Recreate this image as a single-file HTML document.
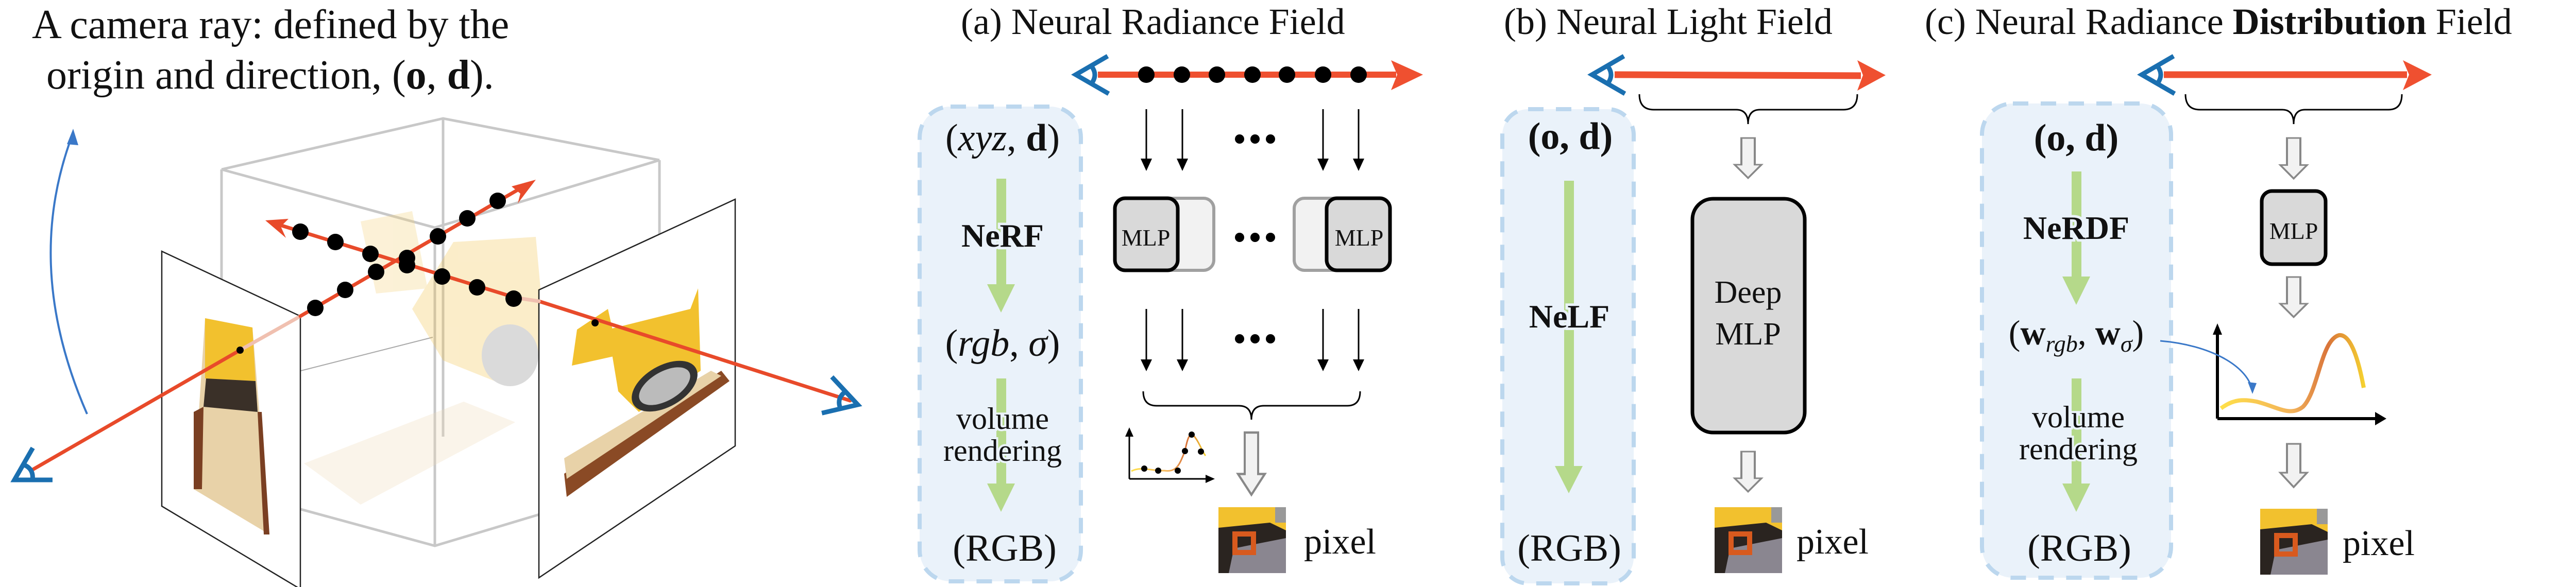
<!DOCTYPE html>
<html><head><meta charset="utf-8"><style>
html,body{margin:0;padding:0;background:#fff;}
svg{display:block;font-family:"Liberation Serif","Times New Roman","DejaVu Serif",serif;}
svg text{font-family:"Liberation Serif","Times New Roman","DejaVu Serif",serif;fill:#111;}
</style></head><body>
<svg width="5010" height="1140" viewBox="0 0 5010 1140" xmlns="http://www.w3.org/2000/svg" font-family="Liberation Serif, serif">
<defs>
<linearGradient id="cg" x1="0" y1="0" x2="1" y2="0">
<stop offset="0" stop-color="#ffe04a"/><stop offset="0.5" stop-color="#f2b25a"/><stop offset="0.75" stop-color="#d9743a"/><stop offset="1" stop-color="#f5d030"/>
</linearGradient>
<g id="eye"><path d="M62,-36 L0,0 L64,37" fill="none" stroke="#1a6fb0" stroke-width="9"/><path d="M30,-17 Q44,0 30,18" fill="none" stroke="#1a6fb0" stroke-width="9"/></g>
<g id="pix">
<rect x="0" y="0" width="131" height="128" fill="#f2c12e"/>
<polygon points="0,40 100,30 131,45 131,128 0,128" fill="#2a2420"/>
<polygon points="30,80 131,60 131,128 20,128" fill="#8a8690"/>
<rect x="110" y="0" width="21" height="30" fill="#999"/>
<rect x="32" y="52" width="36" height="36" fill="none" stroke="#d85a1e" stroke-width="10"/>
</g>
<g id="hol"><path d="M-13,0 H13 V70 H26 L0,105 L-26,70 H-13 Z" fill="#f2f2f2" stroke="#888" stroke-width="4"/></g>
</defs>

<!-- Left title -->
<text x="62" y="74" font-size="80" font-family="Liberation Serif, serif">A camera ray: defined by the</text>
<text x="90" y="172" font-size="80" font-family="Liberation Serif, serif">origin and direction, (<tspan font-weight="bold">o</tspan>, <tspan font-weight="bold">d</tspan>).</text>

<!-- blue arc -->
<path d="M169,804 C80,600 80,420 142,258" fill="none" stroke="#3a78c8" stroke-width="4"/>
<polygon points="142,250 130,280 152,282" fill="#3a78c8"/>

<!-- box edges -->
<g stroke="#c8c8c8" stroke-width="5" fill="none">
<polyline points="430,329 860,230 1280,311"/>
<line x1="860" y1="230" x2="860" y2="848"/>
<line x1="430" y1="329" x2="430" y2="947"/>
<line x1="1280" y1="311" x2="1280" y2="929"/>
<polyline points="430,947 844,1060 1280,929"/>
<polyline points="430,329 844,442 1280,311"/>
<line x1="844" y1="442" x2="844" y2="1060"/>
</g>
<line x1="584" y1="720" x2="840" y2="655" stroke="#aaa" stroke-width="2"/>
<!-- ghost bulldozer -->
<g opacity="0.3">
<polygon points="700,430 800,410 830,560 730,570" fill="#f4d27a"/>
<polygon points="880,470 1040,460 1060,680 960,740 860,700 800,600" fill="#f2c450"/>
<ellipse cx="990" cy="690" rx="55" ry="60" fill="#888"/>
<polygon points="590,900 900,780 1000,820 700,980" fill="#f0dcb8"/>
</g>

<!-- left plane -->
<polygon points="314,488 583,614 583,1144 314,983" fill="#fff" stroke="#222" stroke-width="2.5"/>
<polygon points="398,618 490,636 523,1038 376,950" fill="#e8d2a8"/>
<polygon points="398,618 490,636 496,740 398,735" fill="#f2c12e"/>
<polygon points="400,735 496,740 500,800 395,790" fill="#3a3028"/>
<polygon points="376,800 395,790 392,950 376,950" fill="#7a3f22"/>
<polygon points="500,800 508,800 523,1038 512,1038" fill="#7a3f22"/>
<!-- right plane -->
<polygon points="1046,563 1427,387 1427,866 1046,1122" fill="#fff" stroke="#222" stroke-width="2.5"/>
<polygon points="1095,920 1400,720 1416,740 1100,965" fill="#8a4a25"/>
<polygon points="1095,890 1380,720 1400,730 1100,930" fill="#e8d2a8"/>
<polygon points="1120,640 1180,600 1200,690 1110,710" fill="#f2c12e"/>
<polygon points="1180,640 1340,600 1355,560 1360,720 1240,800 1200,760" fill="#f2c12e"/>
<ellipse cx="1290" cy="750" rx="70" ry="40" transform="rotate(-30 1290 750)" fill="#333"/>
<ellipse cx="1290" cy="750" rx="55" ry="28" transform="rotate(-30 1290 750)" fill="#bbb"/>

<!-- rays -->
<g stroke-linecap="round">
<line x1="60" y1="914" x2="466" y2="680" stroke="#e84a2a" stroke-width="7"/>
<line x1="466" y1="680" x2="583" y2="614" stroke="#f0c0b0" stroke-width="7"/>
<line x1="583" y1="614" x2="1020" y2="360" stroke="#e84a2a" stroke-width="7"/>
<line x1="1650" y1="778" x2="1046" y2="585" stroke="#e84a2a" stroke-width="7"/>
<line x1="1046" y1="585" x2="1000" y2="578" stroke="#f0c0b0" stroke-width="7"/>
<line x1="1000" y1="578" x2="540" y2="436" stroke="#e84a2a" stroke-width="7"/>
</g>
<polygon points="1040,349 993,362 1010,376 1005,395" fill="#e84a2a"/>
<polygon points="515,428 560,425 545,440 555,462" fill="#e84a2a"/>
<circle cx="466" cy="680" r="7" fill="#000"/>
<circle cx="1155" cy="627" r="7" fill="#000"/>
<g fill="#000">
<circle cx="612" cy="598" r="16"/><circle cx="670" cy="563" r="16"/><circle cx="730" cy="528" r="16"/><circle cx="790" cy="501" r="16"/><circle cx="850" cy="459" r="16"/><circle cx="907" cy="424" r="16"/><circle cx="966" cy="390" r="16"/>
<circle cx="997" cy="580" r="16"/><circle cx="926" cy="558" r="16"/><circle cx="858" cy="537" r="16"/><circle cx="790" cy="515" r="16"/><circle cx="719" cy="493" r="16"/><circle cx="651" cy="470" r="16"/><circle cx="583" cy="450" r="16"/>
</g>
<use href="#eye" transform="translate(28,932) rotate(-30)"/>
<use href="#eye" transform="translate(1665,786) rotate(197)"/>

<!-- ===== Panel (a) ===== -->
<text x="1865" y="66" font-size="72" font-family="Liberation Serif, serif">(a) Neural Radiance Field</text>
<rect x="1785" y="207" width="313" height="922" rx="60" fill="#eaf2fa" stroke="#bcd7ee" stroke-width="8" stroke-dasharray="30,24"/>
<g fill="#b5d98a">
<rect x="1934" y="347" width="19" height="210"/><polygon points="1916,552 1970,552 1943,607"/>
<rect x="1934" y="735" width="19" height="210"/><polygon points="1916,939 1970,939 1943,994"/>
</g>
<g text-anchor="middle" font-family="Liberation Serif, serif">
<text x="1946" y="292" font-size="74">(<tspan font-style="italic">xyz</tspan>, <tspan font-weight="bold">d</tspan>)</text>
<text x="1946" y="479" font-size="64" font-weight="bold" stroke="#eaf2fa" stroke-width="10" paint-order="stroke">NeRF</text>
<text x="1946" y="691" font-size="74">(<tspan font-style="italic">rgb</tspan>, <tspan font-style="italic">σ</tspan>)</text>
<text x="1946" y="833" font-size="60" stroke="#eaf2fa" stroke-width="8" paint-order="stroke">volume</text>
<text x="1946" y="895" font-size="60" stroke="#eaf2fa" stroke-width="8" paint-order="stroke">rendering</text>
<text x="1950" y="1089" font-size="74">(RGB)</text>
</g>
<!-- ray a -->
<line x1="2131" y1="145" x2="2710" y2="145" stroke="#ef5030" stroke-width="12"/>
<polygon points="2762,145 2700,117 2712,145 2700,175" fill="#ef5030"/>
<use href="#eye" transform="translate(2088,145)"/>
<g fill="#000"><circle cx="2225" cy="145" r="16"/><circle cx="2294" cy="145" r="16"/><circle cx="2362" cy="145" r="16"/><circle cx="2431" cy="145" r="16"/><circle cx="2498" cy="145" r="16"/><circle cx="2568" cy="145" r="16"/><circle cx="2637" cy="145" r="16"/></g>
<g stroke="#000" stroke-width="3">
<line x1="2225" y1="212" x2="2225" y2="315"/><line x1="2295" y1="212" x2="2295" y2="315"/><line x1="2568" y1="212" x2="2568" y2="315"/><line x1="2637" y1="212" x2="2637" y2="315"/>
<line x1="2225" y1="600" x2="2225" y2="705"/><line x1="2295" y1="600" x2="2295" y2="705"/><line x1="2568" y1="600" x2="2568" y2="705"/><line x1="2637" y1="600" x2="2637" y2="705"/>
</g>
<g fill="#000">
<polygon points="2214,308 2236,308 2225,332"/><polygon points="2284,308 2306,308 2295,332"/><polygon points="2557,308 2579,308 2568,332"/><polygon points="2626,308 2648,308 2637,332"/>
<polygon points="2214,698 2236,698 2225,721"/><polygon points="2284,698 2306,698 2295,721"/><polygon points="2557,698 2579,698 2568,721"/><polygon points="2626,698 2648,698 2637,721"/>
</g>
<g fill="#000">
<circle cx="2406" cy="270" r="9"/><circle cx="2436" cy="270" r="9"/><circle cx="2466" cy="270" r="9"/>
<circle cx="2406" cy="461" r="9"/><circle cx="2436" cy="461" r="9"/><circle cx="2466" cy="461" r="9"/>
<circle cx="2406" cy="658" r="9"/><circle cx="2436" cy="658" r="9"/><circle cx="2466" cy="658" r="9"/>
</g>
<rect x="2164" y="385" width="192" height="140" rx="20" fill="#f2f2f2" stroke="#a0a0a0" stroke-width="6"/>
<rect x="2164" y="385" width="122" height="140" rx="20" fill="#d9d9d9" stroke="#000" stroke-width="7"/>
<rect x="2512" y="385" width="186" height="140" rx="20" fill="#f2f2f2" stroke="#a0a0a0" stroke-width="6"/>
<rect x="2575" y="385" width="123" height="140" rx="20" fill="#d9d9d9" stroke="#000" stroke-width="7"/>
<text x="2224" y="477" font-size="46" text-anchor="middle" font-family="Liberation Serif, serif">MLP</text>
<text x="2638" y="477" font-size="46" text-anchor="middle" font-family="Liberation Serif, serif">MLP</text>
<path d="M2219,760 Q2219,788 2245,788 H2405 Q2429,788 2429,815 Q2429,788 2453,788 H2615 Q2640,788 2640,760" fill="none" stroke="#000" stroke-width="3"/>
<use href="#hol" transform="translate(2429,840) scale(1,1.15)"/>
<g stroke="#000" stroke-width="3"><line x1="2192" y1="930" x2="2350" y2="930"/><line x1="2192" y1="930" x2="2192" y2="845"/></g>
<polygon points="2358,930 2340,922 2340,938" fill="#000"/><polygon points="2192,830 2184,848 2200,848" fill="#000"/>
<path d="M2196,915 C2215,905 2235,915 2260,914 C2285,918 2290,900 2300,876 C2305,850 2310,835 2320,850 C2328,860 2335,880 2340,885" fill="none" stroke="url(#cg)" stroke-width="3"/>
<g fill="#000"><circle cx="2221" cy="910" r="6"/><circle cx="2248" cy="914" r="6"/><circle cx="2286" cy="914" r="6"/><circle cx="2300" cy="876" r="6"/><circle cx="2313" cy="844" r="6"/><circle cx="2331" cy="877" r="6"/></g>
<use href="#pix" transform="translate(2365,985)"/>
<text x="2531" y="1075" font-size="70" font-family="Liberation Serif, serif">pixel</text>

<!-- ===== Panel (b) ===== -->
<text x="2919" y="66" font-size="72" font-family="Liberation Serif, serif">(b) Neural Light Field</text>
<rect x="2916" y="212" width="255" height="921" rx="50" fill="#eaf2fa" stroke="#bcd7ee" stroke-width="8" stroke-dasharray="30,24"/>
<rect x="3036" y="351" width="19" height="560" fill="#b5d98a"/><polygon points="3018,905 3072,905 3045,958" fill="#b5d98a"/>
<g text-anchor="middle" font-family="Liberation Serif, serif">
<text x="3048" y="289" font-size="74" font-weight="bold">(o, d)</text>
<text x="3046" y="636" font-size="64" font-weight="bold" stroke="#eaf2fa" stroke-width="10" paint-order="stroke">NeLF</text>
<text x="3046" y="1089" font-size="74">(RGB)</text>
</g>
<line x1="3134" y1="145" x2="3612" y2="147" stroke="#ef5030" stroke-width="13"/>
<polygon points="3660,146 3605,117 3616,146 3605,176" fill="#ef5030"/>
<use href="#eye" transform="translate(3090,145)"/>
<path d="M3182,183 Q3182,213 3210,213 H3370 Q3393,213 3393,241 Q3393,213 3416,213 H3578 Q3605,213 3605,183" fill="none" stroke="#000" stroke-width="3"/>
<use href="#hol" transform="translate(3393,268) scale(1,0.74)"/>
<rect x="3285" y="386" width="218" height="454" rx="40" fill="#d9d9d9" stroke="#000" stroke-width="7"/>
<text x="3393" y="588" font-size="62" text-anchor="middle" font-family="Liberation Serif, serif">Deep</text>
<text x="3393" y="669" font-size="62" text-anchor="middle" font-family="Liberation Serif, serif">MLP</text>
<use href="#hol" transform="translate(3393,877) scale(1,0.74)"/>
<use href="#pix" transform="translate(3328,985)"/>
<text x="3487" y="1075" font-size="70" font-family="Liberation Serif, serif">pixel</text>

<!-- ===== Panel (c) ===== -->
<text x="3736" y="66" font-size="72" font-family="Liberation Serif, serif">(c) Neural Radiance <tspan font-weight="bold">Distribution</tspan> Field</text>
<rect x="3847" y="201" width="367" height="921" rx="60" fill="#eaf2fa" stroke="#bcd7ee" stroke-width="8" stroke-dasharray="30,24"/>
<g fill="#b5d98a">
<rect x="4021" y="333" width="19" height="210"/><polygon points="4003,537 4057,537 4030,592"/>
<rect x="4021" y="735" width="19" height="210"/><polygon points="4003,939 4057,939 4030,994"/>
</g>
<g text-anchor="middle" font-family="Liberation Serif, serif">
<text x="4030" y="292" font-size="74" font-weight="bold">(o, d)</text>
<text x="4030" y="464" font-size="64" font-weight="bold" stroke="#eaf2fa" stroke-width="10" paint-order="stroke">NeRDF</text>
<text x="4030" y="669" font-size="68" stroke="#eaf2fa" stroke-width="8" paint-order="stroke">(<tspan font-weight="bold">w</tspan><tspan font-style="italic" font-size="46" dy="14">rgb</tspan><tspan dy="-14">, </tspan><tspan font-weight="bold">w</tspan><tspan font-style="italic" font-size="46" dy="14">σ</tspan><tspan dy="-14">)</tspan></text>
<text x="4034" y="830" font-size="60" stroke="#eaf2fa" stroke-width="8" paint-order="stroke">volume</text>
<text x="4034" y="892" font-size="60" stroke="#eaf2fa" stroke-width="8" paint-order="stroke">rendering</text>
<text x="4036" y="1089" font-size="74">(RGB)</text>
</g>
<line x1="4200" y1="145" x2="4672" y2="145" stroke="#ef5030" stroke-width="13"/>
<polygon points="4720,145 4664,117 4676,145 4664,175" fill="#ef5030"/>
<use href="#eye" transform="translate(4157,145)"/>
<path d="M4242,183 Q4242,213 4270,213 H4430 Q4452,213 4452,241 Q4452,213 4474,213 H4636 Q4662,213 4662,183" fill="none" stroke="#000" stroke-width="3"/>
<use href="#hol" transform="translate(4452,268) scale(1,0.75)"/>
<rect x="4390" y="371" width="124" height="142" rx="20" fill="#d9d9d9" stroke="#000" stroke-width="7"/>
<text x="4452" y="464" font-size="46" text-anchor="middle" font-family="Liberation Serif, serif">MLP</text>
<use href="#hol" transform="translate(4452,538) scale(1,0.74)"/>
<g stroke="#000" stroke-width="6"><line x1="4304" y1="813" x2="4615" y2="813"/><line x1="4304" y1="813" x2="4304" y2="645"/></g>
<polygon points="4632,813 4610,800 4610,826" fill="#000"/><polygon points="4304,628 4295,650 4313,650" fill="#000"/>
<path d="M4311,793 C4335,775 4355,775 4380,780 C4420,790 4445,810 4470,790 C4500,760 4505,660 4540,651 C4565,648 4580,710 4588,753" fill="none" stroke="url(#cg)" stroke-width="8"/>
<path d="M4193,662 C4290,670 4360,710 4371,755" fill="none" stroke="#3a78c8" stroke-width="3"/>
<polygon points="4372,765 4363,742 4380,744" fill="#3a78c8"/>
<use href="#hol" transform="translate(4452,862) scale(1,0.8)"/>
<use href="#pix" transform="translate(4387,988)"/>
<text x="4547" y="1078" font-size="70" font-family="Liberation Serif, serif">pixel</text>
</svg>
</body></html>
